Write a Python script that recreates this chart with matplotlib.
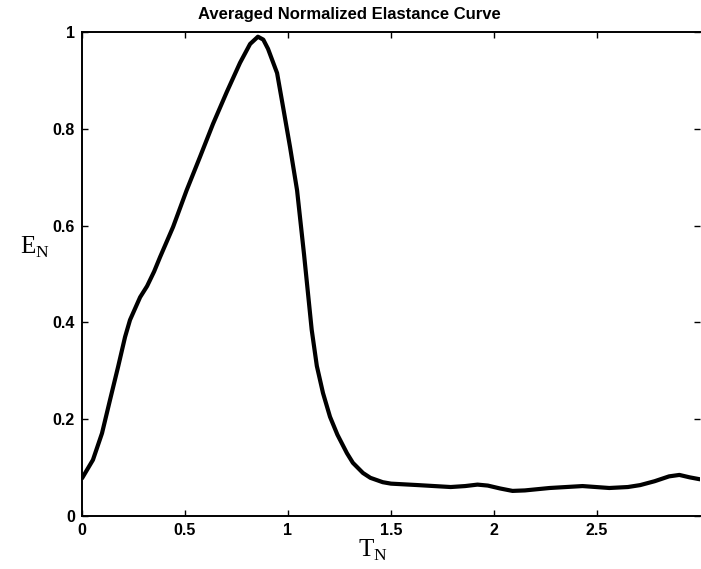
import matplotlib
matplotlib.use("Agg")
import matplotlib.pyplot as plt
from matplotlib.font_manager import FontProperties

# values
t_n = [0.0, 0.053, 0.097, 0.136, 0.175, 0.209, 0.233, 0.282, 0.316, 0.35,
       0.379, 0.442, 0.508, 0.573, 0.636, 0.703, 0.767, 0.816, 0.854, 0.88,
       0.903, 0.947, 0.976, 1.01, 1.044, 1.078, 1.115, 1.14, 1.17, 1.204,
       1.24, 1.286, 1.315, 1.364, 1.40, 1.46, 1.5, 1.63, 1.79, 1.86, 1.92,
       1.97, 2.03, 2.09, 2.15, 2.27, 2.43, 2.56, 2.65, 2.71, 2.78, 2.85,
       2.90, 2.95, 3.0]
e_n = [0.078, 0.116, 0.171, 0.24, 0.308, 0.37, 0.405, 0.452, 0.475, 0.505,
       0.535, 0.597, 0.673, 0.742, 0.81, 0.876, 0.936, 0.975, 0.99, 0.984,
       0.965, 0.915, 0.845, 0.762, 0.673, 0.54, 0.385, 0.31, 0.254, 0.205,
       0.168, 0.13, 0.11, 0.089, 0.079, 0.07, 0.067, 0.064, 0.06, 0.062, 0.065,
       0.063, 0.057, 0.052, 0.053, 0.058, 0.062, 0.058, 0.06, 0.064, 0.072,
       0.082, 0.085, 0.08, 0.076]

x_ticks = [0, 0.5, 1, 1.5, 2, 2.5]
x_labels = ["0", "0.5", "1", "1.5", "2", "2.5"]
y_ticks = [0, 0.2, 0.4, 0.6, 0.8, 1]
y_labels = ["0", "0.2", "0.4", "0.6", "0.8", "1"]

fig = plt.figure(figsize=(7.01, 5.69), dpi=100)
ax = fig.add_axes([0.117, 0.093, 0.8815, 0.851])

ax.plot(t_n, e_n, color="black", lw=3, solid_joinstyle="round",
        solid_capstyle="round")

ax.set_xlim(0, 3)
ax.set_ylim(0, 1)
ax.set_xticks(x_ticks)
ax.set_xticklabels(x_labels)
ax.set_yticks(y_ticks)
ax.set_yticklabels(y_labels)

tick_font = FontProperties(family="Liberation Sans", weight="bold", size=11.5)
for lab in ax.get_xticklabels() + ax.get_yticklabels():
    lab.set_fontproperties(tick_font)

ax.tick_params(direction="in", length=4, width=1, top=True, right=True,
               pad=5, color="black")
for side in ["left", "bottom", "top"]:
    ax.spines[side].set_linewidth(1.4)
ax.spines["right"].set_visible(False)

fig.text(0.498, 0.975, "Averaged Normalized Elastance Curve",
         ha="center", va="center", family="Liberation Sans",
         weight="bold", size=12)

fig.text(0.532, 0.032, r"T$_\mathregular{N}$", ha="center", va="center",
         family="Liberation Serif", size=18)
fig.text(0.05, 0.565, r"E$_\mathregular{N}$", ha="center", va="center",
         family="Liberation Serif", size=18)

fig.savefig("out.png", dpi=100)
